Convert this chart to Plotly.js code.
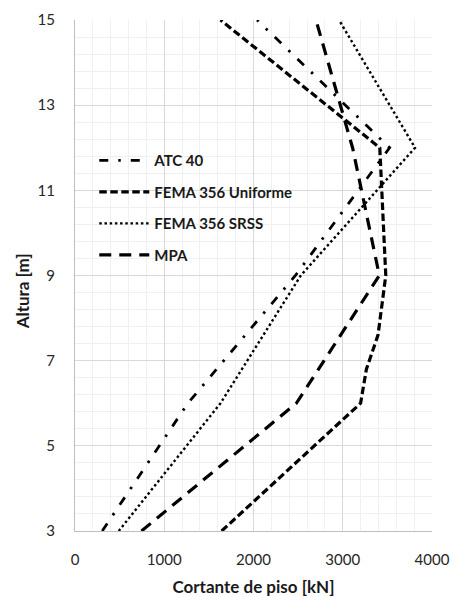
<!DOCTYPE html>
<html><head><meta charset="utf-8">
<script src="https://cdn.plot.ly/plotly-3.0.1.min.js"></script>
<style>html,body{margin:0;padding:0;background:#fff;}#chart{width:456px;height:597px;}</style>
</head><body><div id="chart"></div>
<script>
// Heights (m) and storey shear (kN)
const alturas = [3, 6, 9, 12, 15];
const atc40 = [305, 1265, 2470, 3525, 2040];
const alturasFemaUniforme = [3, 6, 6.8, 7.6, 9, 12, 15];
const femaUniforme = [1643, 3200, 3265, 3395, 3482, 3415, 1630];
const femaSrss = [490, 1630, 2530, 3810, 2958];
const mpa = [745, 2480, 3410, 3110, 2700];
const nombres = ['ATC 40', 'FEMA 356 Uniforme', 'FEMA 356 SRSS', 'MPA'];
const xTicks = [0, 1000, 2000, 3000, 4000];
const yTicks = [3, 5, 7, 9, 11, 13, 15];

const FONT = 'Lato, "Liberation Sans", sans-serif';

const traces = [
  {x: atc40, y: alturas, name: nombres[0], legendgroup: 'a',
   line: {color: '#000', width: 2.8, dash: '9px,10px,2.5px,10px'}},
  {x: femaUniforme, y: alturasFemaUniforme, name: nombres[1], legendgroup: 'b',
   line: {color: '#000', width: 3.2, dash: '7.5px,3.5px'}},
  {x: femaSrss, y: alturas, name: nombres[2], legendgroup: 'c',
   line: {color: '#000', width: 2.4, dash: '2.5px,2.7px'}},
  {x: mpa, y: alturas, name: nombres[3], legendgroup: 'd',
   line: {color: '#000', width: 3.2, dash: '12px,8px'}}
].map(t => Object.assign({type: 'scatter', mode: 'lines'}, t));

const layout = {
  width: 456, height: 597,
  margin: {l: 75, r: 23.5, t: 20, b: 65.7},
  paper_bgcolor: '#fff', plot_bgcolor: '#fff',
  font: {family: FONT, color: '#262626'},
  showlegend: true,
  legend: {
    x: 0.054, y: 0.757, xanchor: 'left', yanchor: 'top',
    bgcolor: 'rgba(255,255,255,0)', borderwidth: 0,
    font: {family: FONT, size: 15, color: '#1a1a1a', weight: 'bold'},
    itemwidth: 50, tracegroupgap: 9, traceorder: 'grouped'
  },
  xaxis: {
    range: [0, 4000], tickvals: xTicks, ticktext: xTicks.map(String),
    showgrid: true, gridcolor: '#d9d9d9', gridwidth: 1,
    minor: {dtick: 200, tick0: 0, showgrid: true, gridcolor: '#f0f0f0', gridwidth: 1},
    showline: true, linecolor: '#bfbfbf', linewidth: 1,
    zeroline: false, ticks: '', ticklabelstandoff: 15,
    tickfont: {family: FONT, size: 15, color: '#262626'},
    title: {text: 'Cortante de piso [kN]', standoff: 16,
            font: {family: FONT, size: 17, color: '#1a1a1a', weight: 'bold'}}
  },
  yaxis: {
    range: [3, 15], tickvals: yTicks, ticktext: yTicks.map(String),
    showgrid: true, gridcolor: '#d9d9d9', gridwidth: 1,
    minor: {dtick: 0.4, tick0: 3, showgrid: true, gridcolor: '#f0f0f0', gridwidth: 1},
    showline: true, linecolor: '#bfbfbf', linewidth: 1,
    zeroline: false, ticks: '', ticklabelstandoff: 16,
    tickfont: {family: FONT, size: 15, color: '#262626'}
  },
  annotations: [{
    text: 'Altura [m]', textangle: -90, xref: 'paper', yref: 'paper',
    x: -0.147, y: 0.468, xanchor: 'center', yanchor: 'middle', showarrow: false,
    font: {family: FONT, size: 17, color: '#1a1a1a', weight: 'bold'}
  }]
};

Plotly.newPlot('chart', traces, layout, {displayModeBar: false, staticPlot: true});
</script>
</body></html>
